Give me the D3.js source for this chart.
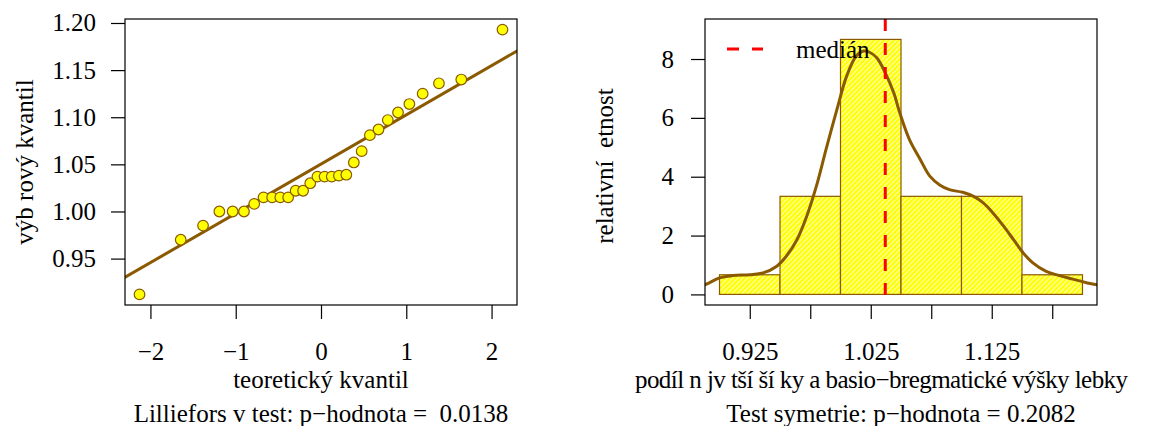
<!DOCTYPE html>
<html>
<head>
<meta charset="utf-8">
<script src="https://cdn.jsdelivr.net/npm/d3@7"></script>
<style>
  body { margin: 0; background: #fff; }
  text { font-family: "Liberation Serif", "DejaVu Serif", serif; fill: #000; }
</style>
</head>
<body>
<div id="chart"></div>
<script>
// sample values (sorted) and the normal quantiles they are plotted against
var sampleQuantiles = [0.912, 0.970, 0.985, 1.000, 1.000, 1.000, 1.008, 1.015, 1.015, 1.015,
                       1.015, 1.022, 1.022, 1.030, 1.037, 1.037, 1.037, 1.038, 1.039, 1.052,
                       1.064, 1.081, 1.087, 1.097, 1.105, 1.114, 1.125, 1.136, 1.140, 1.193];
var theoreticalQuantiles = [-2.128, -1.645, -1.383, -1.192, -1.036, -0.903, -0.783, -0.674, -0.573, -0.477,
                            -0.385, -0.297, -0.210, -0.126, -0.042, 0.042, 0.126, 0.210, 0.297, 0.385,
                            0.477, 0.573, 0.674, 0.783, 0.903, 1.036, 1.192, 1.383, 1.645, 2.128];
var qqXTicks = [-2, -1, 0, 1, 2];
var qqYTicks = [0.95, 1.00, 1.05, 1.10, 1.15, 1.20];

// histogram (relative frequency density)
var binEdges = [0.90, 0.95, 1.00, 1.05, 1.10, 1.15, 1.20];
var binDensity = [0.667, 3.333, 8.667, 3.333, 3.333, 0.667];
var histXTicks = [0.925, 0.975, 1.025, 1.075, 1.125, 1.175];
var histXLabels = ["0.925", "", "1.025", "", "1.125", ""];
var histYTicks = [0, 2, 4, 6, 8];

// kernel density curve
var densityX = [0.880, 0.888, 0.900, 0.911, 0.925, 0.936, 0.947, 0.955, 0.964, 0.972, 0.980, 0.988, 0.997,
                1.005, 1.013, 1.019, 1.024, 1.030, 1.037, 1.044, 1.049, 1.057, 1.066, 1.074, 1.082, 1.090,
                1.101, 1.110, 1.118, 1.126, 1.135, 1.143, 1.151, 1.159, 1.170, 1.181, 1.192, 1.204, 1.212, 1.220];
var densityY = [0.28, 0.33, 0.56, 0.64, 0.67, 0.73, 0.95, 1.29, 1.86, 2.65, 3.67, 4.92, 6.28,
                7.41, 8.10, 8.27, 8.23, 8.04, 7.53, 6.85, 6.17, 5.26, 4.58, 4.01, 3.72, 3.56,
                3.47, 3.33, 3.11, 2.77, 2.31, 1.86, 1.41, 1.07, 0.78, 0.64, 0.52, 0.39, 0.33, 0.27];

var brown = "#8B5A00";
var tickLen = 14;
var fontSize = "25px";

var svg = d3.select("#chart")
  .append("svg")
    .attr("width", 1157)
    .attr("height", 426);

var defs = svg.append("defs");
var hatch = defs.append("pattern")
    .attr("id", "hatch")
    .attr("patternUnits", "userSpaceOnUse")
    .attr("width", 3.5)
    .attr("height", 3.5)
    .attr("patternTransform", "rotate(45)");
hatch.append("rect")
    .attr("width", 3.5).attr("height", 3.5)
    .attr("fill", "#ffff00");
hatch.append("line")
    .attr("x1", 0.8).attr("y1", 0).attr("x2", 0.8).attr("y2", 3.5)
    .attr("stroke", "#ffffb8")
    .attr("stroke-width", 1.2);

// ---------- left panel: Q-Q plot ----------
var left = {x0: 125, x1: 517, y0: 19, y1: 305};

var xq = d3.scaleLinear()
  .domain([-2.128 - 0.04 * 4.256, 2.128 + 0.04 * 4.256])
  .range([left.x0, left.x1]);
var yq = d3.scaleLinear()
  .domain([0.912 - 0.04 * 0.281, 1.193 + 0.04 * 0.281])
  .range([left.y1, left.y0]);

defs.append("clipPath").attr("id", "clipL")
  .append("rect")
    .attr("x", left.x0).attr("y", left.y0)
    .attr("width", left.x1 - left.x0).attr("height", left.y1 - left.y0);

// qqline through the quartiles
var q1 = d3.quantile(sampleQuantiles, 0.25),
    q3 = d3.quantile(sampleQuantiles, 0.75),
    z75 = 0.6745;
var slope = (q3 - q1) / (2 * z75),
    intercept = (q1 + q3) / 2;

svg.append("line")
    .attr("clip-path", "url(#clipL)")
    .attr("x1", xq(-3)).attr("y1", yq(intercept - 3 * slope))
    .attr("x2", xq(3)).attr("y2", yq(intercept + 3 * slope))
    .attr("stroke", brown)
    .attr("stroke-width", 3);

svg.append("g")
  .selectAll("circle")
  .data(sampleQuantiles)
  .enter()
  .append("circle")
    .attr("cx", function (d, i) { return xq(theoreticalQuantiles[i]); })
    .attr("cy", function (d) { return yq(d); })
    .attr("r", 5.3)
    .attr("fill", "#ffff00")
    .attr("stroke", brown)
    .attr("stroke-width", 1.2);

// box + axes
svg.append("rect")
    .attr("x", left.x0).attr("y", left.y0)
    .attr("width", left.x1 - left.x0).attr("height", left.y1 - left.y0)
    .attr("fill", "none").attr("stroke", "#000").attr("stroke-width", 1.2);

svg.append("g")
    .attr("transform", "translate(0," + left.y1 + ")")
    .call(d3.axisBottom(xq).tickValues(qqXTicks).tickSize(tickLen).tickPadding(23)
      .tickFormat(function (d) { return d < 0 ? "\u2212" + Math.abs(d) : d; }))
    .call(function (g) { g.select(".domain").remove(); });

svg.append("g")
    .attr("transform", "translate(" + left.x0 + ",0)")
    .call(d3.axisLeft(yq).tickValues(qqYTicks).tickSize(tickLen).tickPadding(15).tickFormat(d3.format(".2f")))
    .call(function (g) { g.select(".domain").remove(); });

svg.append("text")
    .attr("x", (left.x0 + left.x1) / 2).attr("y", 388)
    .attr("text-anchor", "middle")
    .style("font-size", fontSize)
    .text("teoretický kvantil");
svg.append("text")
    .attr("x", (left.x0 + left.x1) / 2).attr("y", 422)
    .attr("text-anchor", "middle")
    .style("font-size", fontSize)
    .style("white-space", "pre")
    .text("Lilliefors v test: p\u2212hodnota =  0.0138");
svg.append("text")
    .attr("transform", "translate(33," + (left.y0 + left.y1) / 2 + ") rotate(-90)")
    .attr("text-anchor", "middle")
    .style("font-size", fontSize)
    .text("výb rový kvantil");

// ---------- right panel: histogram ----------
var right = {x0: 705, x1: 1097, y0: 19, y1: 305};

var xh = d3.scaleLinear()
  .domain([0.90 - 0.04 * 0.30, 1.20 + 0.04 * 0.30])
  .range([right.x0, right.x1]);
var yh = d3.scaleLinear()
  .domain([-0.36, 9.36])
  .range([right.y1, right.y0]);

defs.append("clipPath").attr("id", "clipR")
  .append("rect")
    .attr("x", right.x0).attr("y", right.y0)
    .attr("width", right.x1 - right.x0).attr("height", right.y1 - right.y0);

svg.append("g")
  .selectAll("rect")
  .data(binDensity)
  .enter()
  .append("rect")
    .attr("x", function (d, i) { return xh(binEdges[i]); })
    .attr("y", function (d) { return yh(d); })
    .attr("width", function (d, i) { return xh(binEdges[i + 1]) - xh(binEdges[i]); })
    .attr("height", function (d) { return yh(0) - yh(d); })
    .attr("fill", "url(#hatch)")
    .attr("stroke", brown)
    .attr("stroke-width", 1.2);

var densityLine = d3.line()
  .x(function (d, i) { return xh(densityX[i]); })
  .y(function (d) { return yh(d); })
  .curve(d3.curveCatmullRom);

svg.append("path")
    .datum(densityY)
    .attr("clip-path", "url(#clipR)")
    .attr("d", densityLine)
    .attr("fill", "none")
    .attr("stroke", brown)
    .attr("stroke-width", 3);

var med = d3.median(sampleQuantiles);
svg.append("line")
    .attr("x1", xh(med)).attr("x2", xh(med))
    .attr("y1", right.y0).attr("y2", right.y1)
    .attr("stroke", "red")
    .attr("stroke-width", 3)
    .attr("stroke-dasharray", "12,12");

// legend
svg.append("line")
    .attr("x1", 727).attr("x2", 763)
    .attr("y1", 49).attr("y2", 49)
    .attr("stroke", "red")
    .attr("stroke-width", 3)
    .attr("stroke-dasharray", "12,13");
svg.append("text")
    .attr("x", 796).attr("y", 58)
    .style("font-size", fontSize)
    .text("medián");

svg.append("rect")
    .attr("x", right.x0).attr("y", right.y0)
    .attr("width", right.x1 - right.x0).attr("height", right.y1 - right.y0)
    .attr("fill", "none").attr("stroke", "#000").attr("stroke-width", 1.2);

svg.append("g")
    .attr("transform", "translate(0," + right.y1 + ")")
    .call(d3.axisBottom(xh).tickValues(histXTicks).tickSize(tickLen).tickPadding(23)
      .tickFormat(function (d, i) { return histXLabels[i]; }))
    .call(function (g) { g.select(".domain").remove(); });

svg.append("g")
    .attr("transform", "translate(" + right.x0 + ",0)")
    .call(d3.axisLeft(yh).tickValues(histYTicks).tickSize(tickLen).tickPadding(17))
    .call(function (g) { g.select(".domain").remove(); });

svg.append("text")
    .attr("x", 635).attr("y", 388)
    .attr("textLength", 493)
    .attr("lengthAdjust", "spacing")
    .style("font-size", fontSize)
    .text("podíl n jv tší ší ky a basio\u2212bregmatické výšky lebky");
svg.append("text")
    .attr("x", (right.x0 + right.x1) / 2).attr("y", 422)
    .attr("text-anchor", "middle")
    .style("font-size", fontSize)
    .text("Test symetrie: p\u2212hodnota = 0.2082");
svg.append("text")
    .attr("transform", "translate(613,166) rotate(-90)")
    .attr("text-anchor", "middle")
    .style("font-size", fontSize)
    .style("white-space", "pre")
    .text("relativní  etnost");

// axis text styling
svg.selectAll(".tick text")
    .style("font-family", "'Liberation Serif', serif")
    .style("font-size", fontSize)
    .attr("fill", "#000");
svg.selectAll(".tick line")
    .attr("stroke", "#000")
    .attr("stroke-width", 1.2);
</script>
</body>
</html>
